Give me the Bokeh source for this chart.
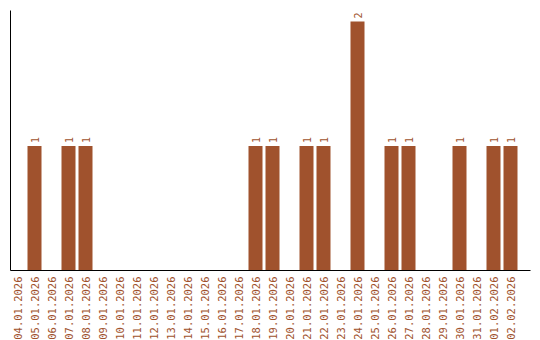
import math
from bokeh.plotting import figure
from bokeh.models import ColumnDataSource, Range1d, FixedTicker
from bokeh.core.properties import value
from bokeh.embed import file_html
from bokeh.resources import INLINE

dates = ["04.01.2026", "05.01.2026", "06.01.2026", "07.01.2026", "08.01.2026",
         "09.01.2026", "10.01.2026", "11.01.2026", "12.01.2026", "13.01.2026",
         "14.01.2026", "15.01.2026", "16.01.2026", "17.01.2026", "18.01.2026",
         "19.01.2026", "20.01.2026", "21.01.2026", "22.01.2026", "23.01.2026",
         "24.01.2026", "25.01.2026", "26.01.2026", "27.01.2026", "28.01.2026",
         "29.01.2026", "30.01.2026", "31.01.2026", "01.02.2026", "02.02.2026"]
counts = [0, 1, 0, 1, 1, 0, 0, 0, 0, 0, 0, 0, 0, 0, 1,
          1, 0, 1, 1, 0, 2, 0, 1, 1, 0, 0, 1, 0, 1, 1]

COLOR = "#A0522D"
idx = list(range(len(dates)))
src = ColumnDataSource(dict(x=idx, y=counts))
nz = [i for i in idx if counts[i] > 0]
lsrc = ColumnDataSource(dict(x=nz, y=[counts[i] for i in nz], label=[str(counts[i]) for i in nz]))

band = 17.0
start = -7.0 / band
end = start + 520.0 / band

p = figure(width=540, height=342, output_backend="svg", toolbar_location=None,
           x_range=Range1d(start, end), y_range=Range1d(0, 2.088),
           min_border_left=10, min_border_right=10, min_border_top=10, min_border_bottom=0)
p.outline_line_color = None
p.xgrid.visible = False
p.ygrid.visible = False
p.background_fill_color = "white"
p.border_fill_color = "white"

p.vbar(x="x", top="y", width=14.0 / band, bottom=0, source=src, fill_color=COLOR, line_color=None)
p.text(x="x", y="y", text="label", source=lsrc, angle=math.pi / 2, y_offset=-3,
       text_align="left", text_baseline="middle", text_color=COLOR,
       text_font=value("DejaVu Sans Mono"), text_font_size="10px")

p.xaxis.ticker = FixedTicker(ticks=idx)
p.xaxis.major_label_overrides = {i: d for i, d in zip(idx, dates)}
p.xaxis.major_label_orientation = math.pi / 2
p.xaxis.major_tick_line_color = None
p.xaxis.minor_tick_line_color = None
p.xaxis.major_tick_out = 0
p.xaxis.major_tick_in = 0
p.xaxis.major_label_standoff = 6
p.xaxis.major_label_text_color = COLOR
p.xaxis.major_label_text_font = "DejaVu Sans Mono"
p.xaxis.major_label_text_font_size = "10.5px"
p.xaxis.axis_line_color = "black"

p.yaxis.ticker = FixedTicker(ticks=[])
p.yaxis.major_tick_line_color = None
p.yaxis.minor_tick_line_color = None
p.yaxis.major_tick_out = 0
p.yaxis.major_label_standoff = 0
p.yaxis.axis_line_color = "black"

open("out.html", "w").write(file_html(p, INLINE))
